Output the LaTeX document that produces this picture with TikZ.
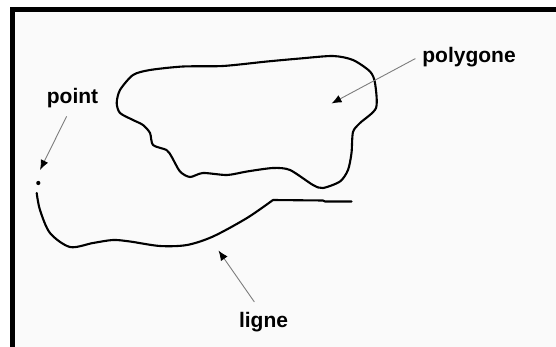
\documentclass[tikz,border=0pt]{standalone}
\usepackage{fontspec}
\setmainfont{Liberation Sans}
\usetikzlibrary{arrows.meta}
\definecolor{Paper}{RGB}{250,250,250}
\definecolor{Pointer}{RGB}{125,125,125}

\begin{document}
\begin{tikzpicture}[x=1pt,y=-1pt,
  lbl/.style={font=\fontsize{21}{24}\selectfont\bfseries,inner sep=0pt,anchor=base},
  outline/.style={line width=2.1pt,black,line join=round,line cap=round},
  ptr/.style={-{Latex[length=10pt,width=8pt,black]},Pointer,line width=.9pt,shorten <=2pt}]
\useasboundingbox (0,0) rectangle (556,347);
\fill[Paper] (12,9) rectangle (556,347);
\draw[line width=4.5pt,line cap=rect] (12.5,347) -- (12.5,9.5) -- (556,9.5);
% polygone
\draw[outline] plot[smooth cycle,tension=.45] coordinates {
  (116.7,103) (120,90) (133,75) (150,70) (183,66.5) (223,66) (267,61.5)
  (300,58.5) (333,56) (353,60) (370,71.5) (375,83) (376,108) (360,123)
  (353,132) (351.5,153) (348,170) (340,181.5) (323,188) (313,185) (290,170)
  (273,168) (247,171.5) (227,175) (203,173) (190,177) (180,171.5) (171.5,156.5)
  (166.5,150) (153,145) (150,133) (143,125) (133,120) (120,113)};
% ligne
\draw[outline] plot[smooth,tension=.5] coordinates {
  (36.7,193) (40,210) (50,233) (70,247) (93,243) (113,240) (130,241.5)
  (160,246) (187,245) (213,236.5) (247,218) (273,200)}
  -- (323,200.5) -- (325,201.5) -- (351.5,201.5);
% point
\fill (38.3,183) circle (2.1pt);
\node[lbl] (point) at (72.5,104) {point};
\node[lbl] (poly) at (469,63) {polygone};
\node[lbl] (ligne) at (263.5,327) {ligne};
\coordinate (pointtip) at (40,170);
\coordinate (polytip) at (331.5,103.5);
\coordinate (lignetip) at (218.5,250.5);
\draw[ptr] (point.south) ++(-5,6) -- (pointtip);
\draw[ptr] (poly.west) ++(-5,0) -- (polytip);
\draw[ptr] (ligne.north) ++(-8,-8) -- (lignetip);
\end{tikzpicture}
\end{document}
